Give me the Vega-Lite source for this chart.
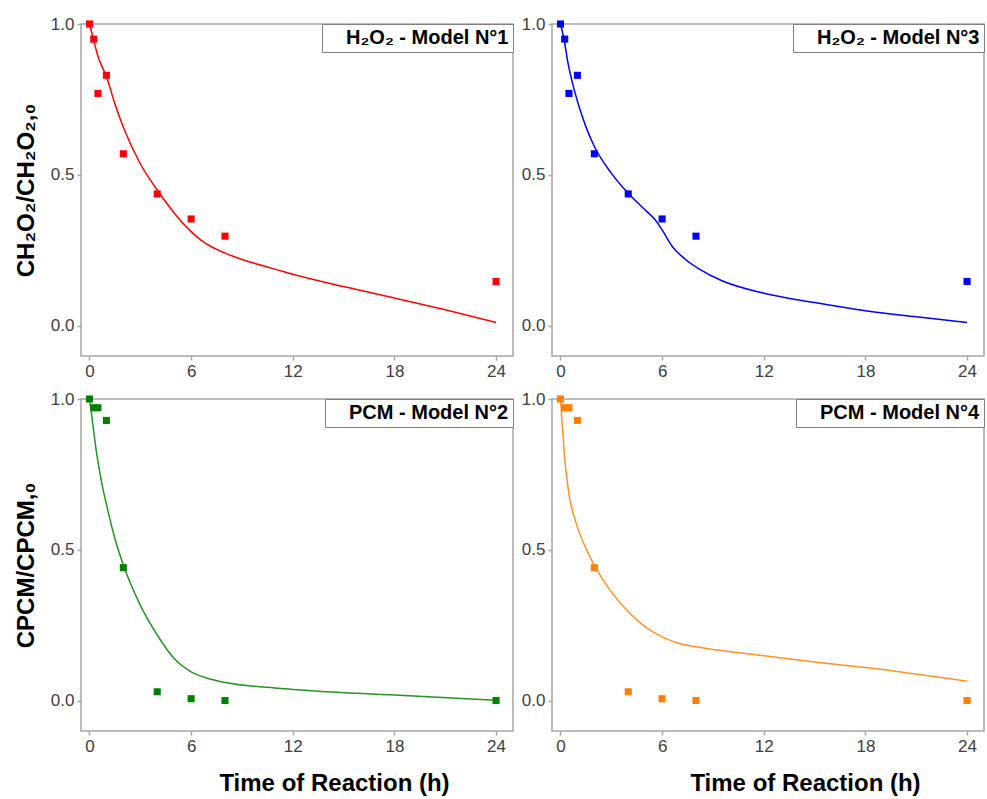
{
  "$schema": "https://vega.github.io/schema/vega-lite/v6.json",
  "background": "white",
  "padding": {"left": 13, "top": 14, "right": 2, "bottom": 0},
  "config": {
    "font": "Liberation Sans",
    "view": {"stroke": "#a6a6a6", "strokeWidth": 1.5},
    "axis": {
      "grid": false, "domain": false, "tickColor": "#a6a6a6", "tickSize": 4, "tickWidth": 1.5,
      "labelFontSize": 17, "labelColor": "#404040", "labelFont": "Liberation Sans", "labelPadding": 3,
      "titleFont": "Liberation Sans", "titleFontSize": 24, "titleFontWeight": "bold", "titleColor": "black"
    },
    "legend": {
      "orient": "top-right", "offset": 0, "strokeColor": "#808080", "fillColor": "white", "padding": 4,
      "labelFontSize": 20, "labelFontWeight": "bold", "labelColor": "black", "labelFont": "Liberation Sans",
      "labelLimit": 0, "symbolSize": 0, "symbolOpacity": 0, "symbolStrokeWidth": 0, "labelOffset": 0
    }
  },
  "datasets": {
    "h2o2_points": [
      {"t": 0, "c": 1.0}, {"t": 0.25, "c": 0.95}, {"t": 0.5, "c": 0.77}, {"t": 1, "c": 0.83},
      {"t": 2, "c": 0.57}, {"t": 4, "c": 0.437}, {"t": 6, "c": 0.354}, {"t": 8, "c": 0.297}, {"t": 24, "c": 0.147}
    ],
    "pcm_points": [
      {"t": 0, "c": 1.0}, {"t": 0.25, "c": 0.971}, {"t": 0.5, "c": 0.971}, {"t": 1, "c": 0.929},
      {"t": 2, "c": 0.441}, {"t": 4, "c": 0.03}, {"t": 6, "c": 0.007}, {"t": 8, "c": 0.001}, {"t": 24, "c": 0.001}
    ],
    "curves": [
      {"model": 1, "t": 0, "c": 1.0}, {"model": 1, "t": 0.25, "c": 0.946}, {"model": 1, "t": 0.5, "c": 0.893},
      {"model": 1, "t": 1, "c": 0.826}, {"model": 1, "t": 1.5, "c": 0.736}, {"model": 1, "t": 2, "c": 0.658},
      {"model": 1, "t": 3, "c": 0.537}, {"model": 1, "t": 4, "c": 0.45}, {"model": 1, "t": 5, "c": 0.374},
      {"model": 1, "t": 6, "c": 0.312}, {"model": 1, "t": 6.6, "c": 0.283}, {"model": 1, "t": 7, "c": 0.268},
      {"model": 1, "t": 8, "c": 0.241}, {"model": 1, "t": 9, "c": 0.22}, {"model": 1, "t": 10, "c": 0.203},
      {"model": 1, "t": 11, "c": 0.187}, {"model": 1, "t": 12, "c": 0.171}, {"model": 1, "t": 15, "c": 0.13},
      {"model": 1, "t": 18, "c": 0.092}, {"model": 1, "t": 21, "c": 0.053}, {"model": 1, "t": 24, "c": 0.011},

      {"model": 3, "t": 0, "c": 1.0}, {"model": 3, "t": 0.22, "c": 0.947}, {"model": 3, "t": 0.41, "c": 0.881},
      {"model": 3, "t": 0.71, "c": 0.804}, {"model": 3, "t": 1.1, "c": 0.726}, {"model": 3, "t": 1.5, "c": 0.66},
      {"model": 3, "t": 2, "c": 0.594}, {"model": 3, "t": 3, "c": 0.506}, {"model": 3, "t": 4, "c": 0.439},
      {"model": 3, "t": 5, "c": 0.384}, {"model": 3, "t": 5.5, "c": 0.357}, {"model": 3, "t": 6, "c": 0.318},
      {"model": 3, "t": 6.6, "c": 0.263}, {"model": 3, "t": 7.4, "c": 0.219}, {"model": 3, "t": 8.2, "c": 0.188},
      {"model": 3, "t": 9.5, "c": 0.15}, {"model": 3, "t": 12, "c": 0.108}, {"model": 3, "t": 15, "c": 0.077},
      {"model": 3, "t": 18, "c": 0.05}, {"model": 3, "t": 21, "c": 0.03}, {"model": 3, "t": 24, "c": 0.011},

      {"model": 2, "t": 0, "c": 1.0}, {"model": 2, "t": 0.12, "c": 0.95}, {"model": 2, "t": 0.41, "c": 0.825},
      {"model": 2, "t": 0.71, "c": 0.726}, {"model": 2, "t": 1.1, "c": 0.627}, {"model": 2, "t": 1.5, "c": 0.538},
      {"model": 2, "t": 2, "c": 0.45}, {"model": 2, "t": 3, "c": 0.317}, {"model": 2, "t": 4, "c": 0.218},
      {"model": 2, "t": 5, "c": 0.14}, {"model": 2, "t": 6, "c": 0.096}, {"model": 2, "t": 7, "c": 0.074},
      {"model": 2, "t": 8, "c": 0.061}, {"model": 2, "t": 11.3, "c": 0.041}, {"model": 2, "t": 18, "c": 0.019},
      {"model": 2, "t": 24, "c": 0.002},

      {"model": 4, "t": 0, "c": 1.0}, {"model": 4, "t": 0.12, "c": 0.903}, {"model": 4, "t": 0.27, "c": 0.792},
      {"model": 4, "t": 0.51, "c": 0.682}, {"model": 4, "t": 0.9, "c": 0.593}, {"model": 4, "t": 1.5, "c": 0.505},
      {"model": 4, "t": 2.1, "c": 0.439}, {"model": 4, "t": 3, "c": 0.361}, {"model": 4, "t": 4, "c": 0.295},
      {"model": 4, "t": 5, "c": 0.245}, {"model": 4, "t": 6, "c": 0.212}, {"model": 4, "t": 7, "c": 0.19},
      {"model": 4, "t": 8, "c": 0.179}, {"model": 4, "t": 11.3, "c": 0.154}, {"model": 4, "t": 15, "c": 0.129},
      {"model": 4, "t": 18, "c": 0.11}, {"model": 4, "t": 24, "c": 0.065}
    ]
  },
  "columns": 2,
  "spacing": {"row": 43, "column": 39},
  "bounds": "flush",
  "resolve": {"scale": {"color": "independent"}, "legend": {"color": "independent"}},
  "concat": [
    {
      "width": 432, "height": 332,
      "layer": [
        {
          "data": {"name": "curves"},
          "transform": [{"filter": "datum.model == 1"}],
          "mark": {"type": "line", "interpolate": "monotone", "strokeWidth": 1.5},
          "encoding": {
            "x": {"field": "t", "type": "quantitative", "scale": {"domain": [-0.5, 25], "nice": false}, "axis": {"title": null, "values": [0, 6, 12, 18, 24]}},
            "y": {"field": "c", "type": "quantitative", "scale": {"domain": [-0.1, 1.0], "nice": false}, "axis": {"title": "CH₂O₂/CH₂O₂,₀", "values": [0, 0.5, 1], "format": ".1f", "titlePadding": 12}},
            "color": {"datum": "H₂O₂ - Model N°1", "type": "nominal", "scale": {"range": ["#ff0000"]}, "legend": {"title": null}}
          }
        },
        {
          "data": {"name": "h2o2_points"},
          "mark": {"type": "square", "size": 50, "opacity": 1},
          "encoding": {
            "x": {"field": "t", "type": "quantitative"},
            "y": {"field": "c", "type": "quantitative"},
            "color": {"datum": "H₂O₂ - Model N°1", "type": "nominal"}
          }
        }
      ]
    },
    {
      "width": 432, "height": 332,
      "layer": [
        {
          "data": {"name": "curves"},
          "transform": [{"filter": "datum.model == 3"}],
          "mark": {"type": "line", "interpolate": "monotone", "strokeWidth": 1.5},
          "encoding": {
            "x": {"field": "t", "type": "quantitative", "scale": {"domain": [-0.5, 25], "nice": false}, "axis": {"title": null, "values": [0, 6, 12, 18, 24]}},
            "y": {"field": "c", "type": "quantitative", "scale": {"domain": [-0.1, 1.0], "nice": false}, "axis": {"title": null, "values": [0, 0.5, 1], "format": ".1f"}},
            "color": {"datum": "H₂O₂ - Model N°3", "type": "nominal", "scale": {"range": ["#0000ff"]}, "legend": {"title": null}}
          }
        },
        {
          "data": {"name": "h2o2_points"},
          "mark": {"type": "square", "size": 50, "opacity": 1},
          "encoding": {
            "x": {"field": "t", "type": "quantitative"},
            "y": {"field": "c", "type": "quantitative"},
            "color": {"datum": "H₂O₂ - Model N°3", "type": "nominal"}
          }
        }
      ]
    },
    {
      "width": 432, "height": 332,
      "layer": [
        {
          "data": {"name": "curves"},
          "transform": [{"filter": "datum.model == 2"}],
          "mark": {"type": "line", "interpolate": "monotone", "strokeWidth": 1.5, "opacity": 0.85},
          "encoding": {
            "x": {"field": "t", "type": "quantitative", "scale": {"domain": [-0.5, 25], "nice": false}, "axis": {"title": "Time of Reaction (h)", "values": [0, 6, 12, 18, 24], "titleX": 253, "titlePadding": 17}},
            "y": {"field": "c", "type": "quantitative", "scale": {"domain": [-0.1, 1.0], "nice": false}, "axis": {"title": "CPCM/CPCM,₀", "values": [0, 0.5, 1], "format": ".1f", "titlePadding": 12}},
            "color": {"datum": "PCM - Model N°2", "type": "nominal", "scale": {"range": ["#008000"]}, "legend": {"title": null}}
          }
        },
        {
          "data": {"name": "pcm_points"},
          "mark": {"type": "square", "size": 50, "opacity": 1},
          "encoding": {
            "x": {"field": "t", "type": "quantitative"},
            "y": {"field": "c", "type": "quantitative"},
            "color": {"datum": "PCM - Model N°2", "type": "nominal"}
          }
        }
      ]
    },
    {
      "width": 432, "height": 332,
      "layer": [
        {
          "data": {"name": "curves"},
          "transform": [{"filter": "datum.model == 4"}],
          "mark": {"type": "line", "interpolate": "monotone", "strokeWidth": 1.5, "opacity": 0.85},
          "encoding": {
            "x": {"field": "t", "type": "quantitative", "scale": {"domain": [-0.5, 25], "nice": false}, "axis": {"title": "Time of Reaction (h)", "values": [0, 6, 12, 18, 24], "titleX": 253, "titlePadding": 17}},
            "y": {"field": "c", "type": "quantitative", "scale": {"domain": [-0.1, 1.0], "nice": false}, "axis": {"title": null, "values": [0, 0.5, 1], "format": ".1f"}},
            "color": {"datum": "PCM - Model N°4", "type": "nominal", "scale": {"range": ["#ff8000"]}, "legend": {"title": null}}
          }
        },
        {
          "data": {"name": "pcm_points"},
          "mark": {"type": "square", "size": 50, "opacity": 1},
          "encoding": {
            "x": {"field": "t", "type": "quantitative"},
            "y": {"field": "c", "type": "quantitative"},
            "color": {"datum": "PCM - Model N°4", "type": "nominal"}
          }
        }
      ]
    }
  ]
}
